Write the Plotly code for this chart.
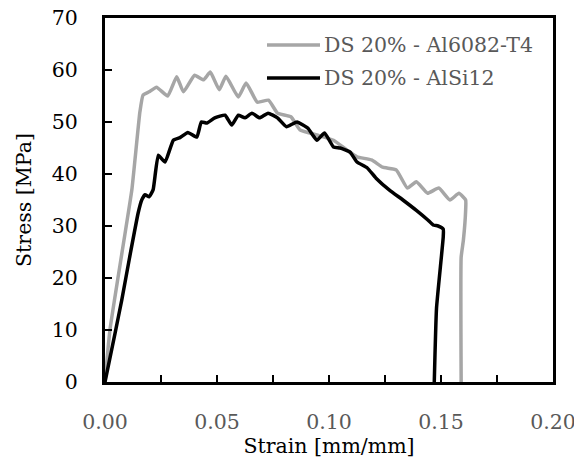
import plotly.graph_objects as go

# Data
strain_al6082 = [0.0, 0.0022, 0.008, 0.012, 0.0156, 0.017, 0.0197, 0.023, 0.028, 0.032, 0.035,
                 0.040, 0.044, 0.047, 0.051, 0.054, 0.0595, 0.063, 0.068, 0.073, 0.077, 0.083,
                 0.087, 0.0946, 0.102, 0.108, 0.1125, 0.119, 0.124, 0.130, 0.135, 0.139, 0.144,
                 0.149, 0.154, 0.158, 0.161, 0.161, 0.160, 0.159, 0.159]
stress_al6082 = [0.0, 10.0, 26.0, 37.0, 52.0, 55.2, 55.8, 56.7, 55.0, 58.7, 55.8,
                 59.0, 58.1, 59.6, 56.2, 58.8, 54.8, 57.5, 53.8, 54.2, 51.7, 51.0,
                 48.5, 47.5, 46.5, 44.6, 43.3, 42.7, 41.3, 40.8, 37.3, 38.5, 36.3,
                 37.3, 35.0, 36.3, 35.0, 33.0, 27.3, 24.0, 0.0]

strain_alsi12 = [0.0, 0.0045, 0.0075, 0.011, 0.0148, 0.0164, 0.0179, 0.0197, 0.0215, 0.0238, 0.0268,
                 0.0305, 0.0335, 0.037, 0.041, 0.043, 0.0455, 0.049, 0.0536, 0.0566, 0.0595,
                 0.0625, 0.0656, 0.069, 0.0728, 0.077, 0.081, 0.0857, 0.0906, 0.0946, 0.098,
                 0.102, 0.105, 0.1094, 0.1125, 0.117, 0.121, 0.127, 0.133, 0.139, 0.144,
                 0.1465, 0.1487, 0.151, 0.151, 0.148, 0.147]
stress_alsi12 = [0.0, 9.4, 15.8, 24.0, 32.5, 35.0, 36.0, 35.6, 37.0, 43.6, 42.3,
                 46.5, 47.0, 48.0, 47.1, 50.0, 49.8, 50.8, 51.3, 49.4, 51.3,
                 50.8, 51.7, 50.8, 51.7, 50.8, 49.1, 50.0, 48.8, 46.5, 47.9,
                 45.2, 45.0, 44.2, 42.3, 41.2, 39.2, 36.9, 35.0, 33.0, 31.2,
                 30.2, 30.0, 29.4, 27.9, 14.2, 0.0]

series_names = ["DS 20% - Al6082-T4", "DS 20% - AlSi12"]
series_colors = ["#a6a6a6", "#000000"]

x_tick_vals = [0.0, 0.05, 0.10, 0.15, 0.20]
x_tick_text = ["0.00", "0.05", "0.10", "0.15", "0.20"]
x_tick_marks = [0.025, 0.05, 0.075, 0.10, 0.125, 0.15, 0.175]
y_tick_marks = [10, 20, 30, 40, 50, 60]

FONT = "DejaVu Serif"
FS = 20.5
X_RANGE = [0, 0.2]
Y_RANGE = [0, 70]
TICK_LEN = 7

fig = go.Figure()
for xs, ys, name, col in [(strain_al6082, stress_al6082, series_names[0], series_colors[0]),
                          (strain_alsi12, stress_alsi12, series_names[1], series_colors[1])]:
    fig.add_trace(go.Scatter(x=xs, y=ys, mode="lines", name=name,
                             line=dict(color=col, width=3.5, shape="spline", smoothing=0.4),
                             showlegend=False))

# inward-pointing tick marks
for v in x_tick_marks:
    fig.add_shape(type="line", xref="x", yref="paper", ysizemode="pixel", yanchor=0,
                  x0=v, x1=v, y0=0, y1=TICK_LEN, line=dict(color="black", width=2))
for v in y_tick_marks:
    fig.add_shape(type="line", yref="y", xref="paper", xsizemode="pixel", xanchor=0,
                  y0=v, y1=v, x0=0, x1=TICK_LEN, line=dict(color="black", width=2))

# Manual legend (long line samples as in reference)
leg_y = [0.9258, 0.8352]
for i in range(2):
    fig.add_shape(type="line", xref="paper", yref="paper",
                  x0=0.3616, x1=0.4799, y0=leg_y[i], y1=leg_y[i],
                  line=dict(color=series_colors[i], width=3.5))
    fig.add_annotation(x=0.4844, y=leg_y[i], xref="paper", yref="paper",
                       text=series_names[i], showarrow=False, xanchor="left", yanchor="middle",
                       font=dict(family=FONT, size=FS, color="#595959"))

fig.update_layout(
    width=574, height=459,
    margin=dict(l=105, r=21, t=18, b=77),
    paper_bgcolor="white", plot_bgcolor="white",
    font=dict(family=FONT, size=FS, color="black"),
    xaxis=dict(range=X_RANGE, tickmode="array", tickvals=x_tick_vals, ticktext=x_tick_text,
               ticks="outside", ticklen=19, tickcolor="rgba(0,0,0,0)",
               ticklabeloverflow="allow",
               tickfont=dict(color="#595959", size=FS, family=FONT),
               showline=True, linewidth=3, linecolor="black", mirror=True, automargin=False,
               showgrid=False, zeroline=False,
               title=dict(text="Strain [mm/mm]", standoff=0, font=dict(size=FS, family=FONT))),
    yaxis=dict(range=Y_RANGE, tick0=0, dtick=10,
               ticks="outside", ticklen=20, tickcolor="rgba(0,0,0,0)",
               tickfont=dict(color="black", size=FS, family=FONT),
               showline=True, linewidth=3, linecolor="black", mirror=True, automargin=False,
               showgrid=False, zeroline=False,
               title=dict(text="Stress [MPa]", standoff=15, font=dict(size=FS, family=FONT))),
)

fig.write_html("out.html")
